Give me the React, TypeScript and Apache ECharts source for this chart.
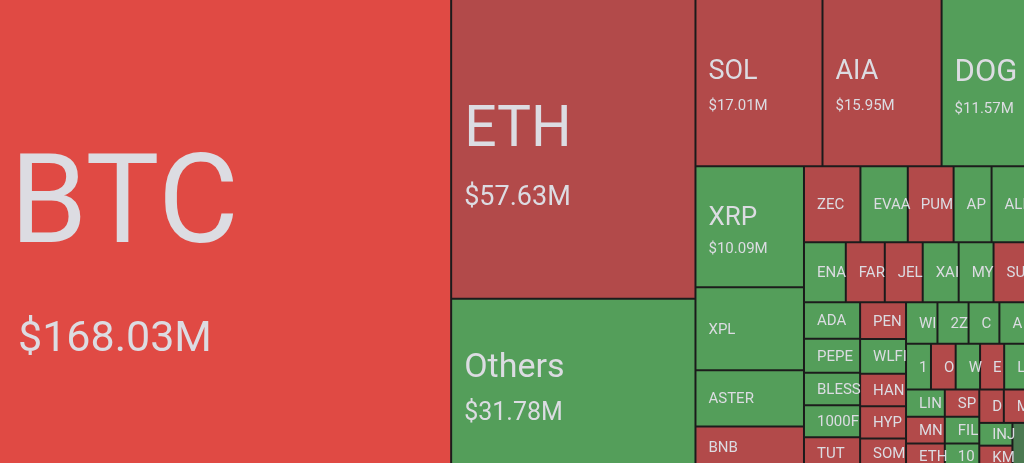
import React, { useEffect, useRef } from 'react';
import * as echarts from 'echarts';

// ---- data ----
const coins = [
  'BTC', 'ETH', 'Others', 'SOL', 'AIA', 'DOGE', 'XRP', 'XPL', 'ASTER', 'BNB',
  'ZEC', 'EVAA', 'PUMP', 'APT', 'ALPINE',
  'ENA', 'FARTCOIN', 'JELLYJELLY', 'XAI', 'MYX', 'SUI',
  'ADA', 'PEPE', 'BLESS', '1000FLOKI', 'TUT',
  'PENGU', 'WLFI', 'HANA', 'HYPE', 'SOMI',
  'WIF', '2Z', 'COAI', 'AVAX',
  '1000BONK', 'OP', 'WLD', 'ETC', 'LTC',
  'LINK', 'MNT', 'ETHFI',
  'SPX', 'FIL', '1000SATS',
  'DOT', 'MET',
  'INJ', 'KMNO',
  'TRX',
];

// volume in $M
const volumes = [
  168.03, 57.63, 31.78, 17.01, 15.95, 11.57, 10.09, 6.94, 4.68, 3.47,
  3.30, 2.77, 2.68, 2.22, 2.13,
  1.93, 1.80, 1.75, 1.66, 1.61, 1.59,
  1.57, 1.47, 1.40, 1.38, 1.33,
  1.30, 1.22, 1.15, 1.14, 1.04,
  1.00, 0.99, 0.98, 0.91,
  0.88, 0.87, 0.86, 0.85, 0.84,
  0.81, 0.80, 0.73,
  0.72, 0.71, 0.65,
  0.63, 0.62,
  0.58, 0.57,
  0.54,
];

// tone of each tile: hot = strong down, down, up, flat
const tones = [
  'hot', 'down', 'up', 'down', 'down', 'up', 'up', 'up', 'up', 'down',
  'down', 'up', 'down', 'up', 'up',
  'up', 'down', 'down', 'up', 'up', 'down',
  'up', 'up', 'up', 'up', 'down',
  'down', 'up', 'down', 'down', 'down',
  'up', 'up', 'up', 'up',
  'up', 'down', 'up', 'down', 'up',
  'up', 'down', 'down',
  'down', 'up', 'up',
  'down', 'down',
  'up', 'down',
  'flat',
];

// tiles that show name + value
const labelledCoins = ['BTC', 'ETH', 'Others', 'SOL', 'AIA', 'DOGE', 'XRP'];

// ---- styles ----
const TONE_COLORS: Record<string, string> = {
  hot: '#e04a44',
  down: '#b24a4a',
  up: '#549e5a',
  flat: '#4b7a51',
};
const BORDER = '#1c1c1c';
const TEXT = '#dcdce2';
const FONT = 'Roboto, "Noto Sans", sans-serif';
const SMALL_LINE = 18;
const BORDER_W = 1;
const PAD_LEFT = 12;
const PAD_RIGHT = -4;

// name size, name line height, value size, value line height, left pad, value indent
const BIG_STYLE: Record<string, [number, number, number, number, number, number]> = {
  BTC: [124, 211, 43, 61, 17, 8],
  ETH: [57, 101, 27, 38, 12, 0],
  Others: [34, 56, 25, 37, 12, 0],
  SOL: [27, 52, 15, 18, 12, 0],
  AIA: [27, 52, 15, 18, 12, 0],
  DOGE: [31, 57, 15, 17, 12, 0],
  XRP: [26, 43, 15, 22, 12, 0],
};

function blockHeight(name: string): number {
  const s = BIG_STYLE[name];
  return s ? s[1] + s[3] : SMALL_LINE;
}

export default function App() {
  const ref = useRef<HTMLDivElement>(null);

  useEffect(() => {
    if (!ref.current) return;
    const chart = echarts.init(ref.current, null, { renderer: 'svg' });

    const rich: Record<string, any> = {};
    labelledCoins.forEach((name, i) => {
      const s = BIG_STYLE[name];
      rich['n' + i] = { fontSize: s[0], lineHeight: s[1], color: TEXT, fontFamily: FONT };
      rich['v' + i] = {
        fontSize: s[2],
        lineHeight: s[3],
        color: TEXT,
        fontFamily: FONT,
        padding: [0, 0, 0, s[5]],
      };
    });

    const buildData = (heights: Record<string, number> | null) =>
      coins.map((name, i) => {
        const item: any = {
          name,
          value: volumes[i],
          itemStyle: { color: TONE_COLORS[tones[i]] },
        };
        if (heights && heights[name] != null) {
          const contentH = heights[name] - 2 * BORDER_W;
          const top = Math.max(0, (contentH - blockHeight(name)) / 2);
          const left = BIG_STYLE[name] ? BIG_STYLE[name][4] : PAD_LEFT;
          item.label = { padding: [top, PAD_RIGHT, 0, left] };
        }
        return item;
      });

    const buildOption = (heights: Record<string, number> | null) => ({
      animation: false,
      series: [
        {
          type: 'treemap',
          left: 0,
          top: 0,
          width: '100%',
          height: '100%',
          roam: false,
          nodeClick: false,
          breadcrumb: { show: false },
          emphasis: { disabled: true },
          label: {
            show: true,
            position: 'insideLeft',
            distance: 0,
            padding: [0, PAD_RIGHT, 0, PAD_LEFT],
            color: TEXT,
            fontFamily: FONT,
            fontSize: 15,
            lineHeight: SMALL_LINE,
            overflow: 'truncate',
            ellipsis: '\u200b',
            rich,
            formatter: (p: any) => {
              const idx = labelledCoins.indexOf(p.name);
              if (idx >= 0) {
                return `{n${idx}|${p.name}}\n{v${idx}|$${Number(p.value).toFixed(2)}M}`;
              }
              return p.name;
            },
          },
          itemStyle: { borderWidth: 0, gapWidth: 0, borderColor: BORDER },
          levels: [
            { itemStyle: { borderWidth: 0, gapWidth: 0, borderColor: BORDER } },
            { itemStyle: { borderWidth: BORDER_W, gapWidth: 0, borderColor: BORDER } },
          ],
          data: buildData(heights),
        },
      ],
    });

    chart.setOption(buildOption(null));

    // read the cell sizes computed by the treemap layout, then centre the labels
    const heights: Record<string, number> = {};
    try {
      const seriesModel = (chart as any).getModel().getSeriesByIndex(0);
      const sdata = seriesModel.getData();
      for (let i = 0; i < sdata.count(); i++) {
        const lay = sdata.getItemLayout(i);
        const nm = sdata.getName(i);
        if (lay && nm) heights[nm] = lay.height;
      }
    } catch (e) {
      // ignore
    }
    chart.setOption(buildOption(heights));

    return () => chart.dispose();
  }, []);

  return (
    <div
      ref={ref}
      style={{ position: 'fixed', left: -8, top: -8, width: 1036, height: 476 }}
    />
  );
}
